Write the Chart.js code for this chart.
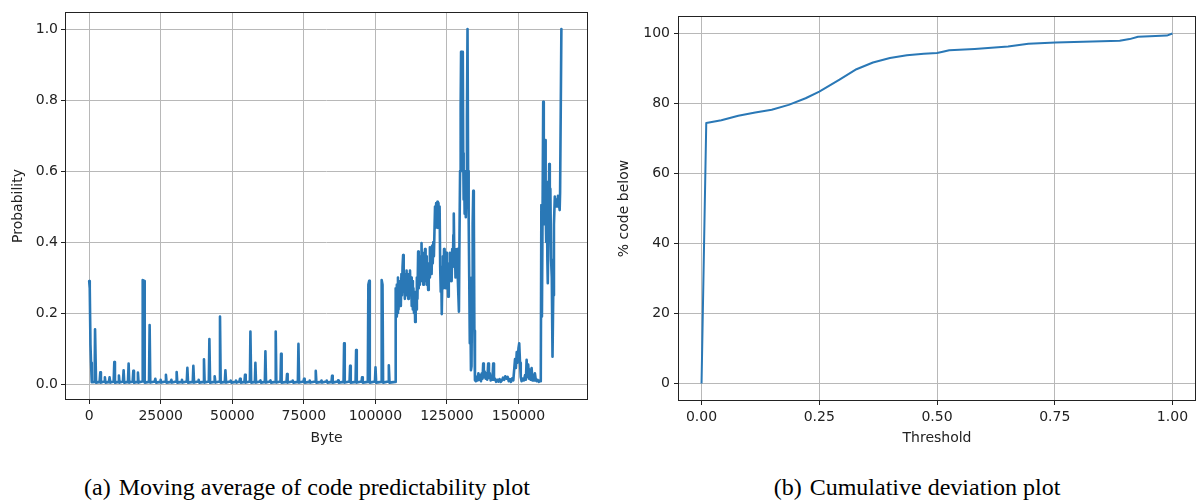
<!DOCTYPE html>
<html>
<head>
<meta charset="utf-8">
<script src="https://cdn.jsdelivr.net/npm/chart.js@4.4.1/dist/chart.umd.min.js"></script>
<style>
  html, body { margin: 0; padding: 0; background: #fff; }
  #wrap { position: relative; width: 1198px; height: 500px; overflow: hidden; }
  canvas { position: absolute; top: 0; }
  .cap { position: absolute; top: 473px; font-family: "Liberation Serif", "Times New Roman", serif;
         font-size: 24px; line-height: 28px; color: #000; white-space: nowrap; transform: translateX(-50%); }
  .cap span { margin-left: 8px; }
</style>
</head>
<body>
<div id="wrap">
  <canvas id="left" width="595" height="460" style="left:0px"></canvas>
  <canvas id="right" width="598" height="460" style="left:600px"></canvas>
  <div class="cap" style="left:307px">(a)<span>Moving average of code predictability plot</span></div>
  <div class="cap" style="left:917px">(b)<span>Cumulative deviation plot</span></div>
</div>
<script>
// tick values
var byteTicks = [0, 25000, 50000, 75000, 100000, 125000, 150000];
var probTicks = [0, 0.2, 0.4, 0.6, 0.8, 1.0];
var thresholdTicks = [0, 0.25, 0.5, 0.75, 1.0];
var pctTicks = [0, 20, 40, 60, 80, 100];

// (a) moving average, [byte, probability]
var movingAvg = [
  [0,0.29],[200,0.27],[450,0.11],[650,0.06],[900,0.005],
  [1900,0.006],[2050,0.154],[2250,0.154],[2400,0.004],
  [3650,0.006],[3880,0.033],[4100,0.004],
  [5250,0.007],[5490,0.019],[5700,0.004],
  [6900,0.006],[7130,0.019],[7350,0.004],
  [8550,0.007],[8780,0.062],[9000,0.004],
  [10150,0.006],[10390,0.024],[10600,0.004],
  [11800,0.007],[12030,0.039],[12250,0.004],
  [13550,0.006],[13780,0.058],[14000,0.004],
  [15200,0.007],[15420,0.037],[15650,0.004],
  [16800,0.006],[17030,0.032],[17250,0.004],
  [18500,0.007],[18700,0.293],[19200,0.29],[19400,0.004],
  [20900,0.006],[21120,0.166],[21350,0.004],
  [22900,0.007],[23110,0.015],[23350,0.004],
  [24750,0.006],[24970,0.012],[25200,0.004],
  [26600,0.007],[26820,0.026],[27050,0.004],
  [28500,0.006],[28710,0.012],[28950,0.004],
  [30350,0.007],[30560,0.034],[30800,0.004],
  [32200,0.006],[32420,0.012],[32650,0.004],
  [34100,0.007],[34310,0.046],[34550,0.004],
  [36200,0.006],[36400,0.051],[36650,0.004],
  [38050,0.007],[38260,0.012],[38500,0.004],
  [39900,0.006],[40110,0.07],[40350,0.004],
  [41800,0.007],[42000,0.127],[42250,0.004],
  [43650,0.006],[43850,0.022],[44100,0.004],
  [45500,0.007],[45710,0.19],[45950,0.004],
  [47400,0.006],[47600,0.039],[47850,0.004],
  [49250,0.007],[49450,0.01],[49700,0.004],
  [51100,0.006],[51300,0.01],[51550,0.004],
  [52500,0.007],[52700,0.015],[52950,0.004],
  [54250,0.006],[54450,0.026],[54700,0.004],
  [56150,0.007],[56340,0.148],[56600,0.004],
  [57900,0.006],[58080,0.06],[58300,0.004],
  [59650,0.007],[59830,0.01],[60050,0.004],
  [61380,0.006],[61580,0.092],[61800,0.004],
  [63150,0.007],[63330,0.01],[63550,0.004],
  [65000,0.006],[65180,0.148],[65400,0.004],
  [66850,0.007],[67040,0.085],[67250,0.004],
  [68950,0.006],[69140,0.028],[69350,0.004],
  [70950,0.007],[71130,0.01],[71350,0.004],
  [72920,0.006],[73120,0.113],[73350,0.004],
  [74900,0.007],[75080,0.015],[75300,0.004],
  [76900,0.006],[77070,0.01],[77300,0.004],
  [78980,0.007],[79170,0.037],[79400,0.004],
  [81000,0.006],[81170,0.01],[81400,0.004],
  [82850,0.007],[83020,0.01],[83250,0.004],
  [84680,0.006],[84870,0.023],[85100,0.004],
  [86800,0.007],[86970,0.01],[87200,0.004],
  [88880,0.006],[89070,0.115],[89300,0.004],
  [90980,0.007],[91170,0.051],[91400,0.004],
  [93080,0.006],[93270,0.096],[93500,0.004],
  [95180,0.007],[95360,0.019],[95600,0.004],
  [97350,0.006],[97550,0.28],[97850,0.291],[98050,0.004],
  [99850,0.007],[100050,0.047],[100280,0.004],
  [102000,0.006],[102200,0.293],[102500,0.28],[102700,0.004],
  [104500,0.007],[104700,0.053],[104950,0.004],
  [106900,0.006],[107100,0.27],[107300,0.19],[107500,0.28],[107700,0.2],[107900,0.3],
  [108100,0.21],[108300,0.27],[108500,0.23],[108700,0.29],[108900,0.22],[109100,0.31],
  [109300,0.25],[109500,0.33],[109700,0.363],[109900,0.26],[110100,0.31],[110300,0.24],
  [110500,0.3],[110700,0.25],[110900,0.32],[111100,0.26],[111300,0.31],[111500,0.24],
  [111700,0.3],[111900,0.25],[112100,0.32],[112300,0.26],[112500,0.3],[112700,0.22],
  [112900,0.29],[113100,0.21],[113300,0.27],[113500,0.2],[113700,0.26],[113900,0.175],
  [114100,0.25],[114300,0.21],[114500,0.3],[114700,0.24],[114950,0.373],[115150,0.27],
  [115350,0.35],[115550,0.28],[115750,0.36],[115950,0.3],[116130,0.397],[116350,0.29],
  [116550,0.37],[116750,0.28],[116950,0.35],[117150,0.29],[117350,0.38],[117550,0.3],
  [117750,0.36],[117950,0.28],[118150,0.33],[118450,0.265],[118650,0.34],[118850,0.3],
  [119050,0.385],[119250,0.32],[119450,0.38],[119650,0.31],[119850,0.39],[120050,0.34],
  [120250,0.4],[120450,0.36],[120650,0.43],[120850,0.5],[121050,0.44],[121250,0.51],
  [121450,0.45],[121650,0.513],[121850,0.44],[122050,0.51],[122250,0.45],[122450,0.5],
  [122650,0.33],[122850,0.26],[123050,0.3],[123200,0.197],[123400,0.3],[123600,0.36],
  [123800,0.27],[124000,0.38],[124200,0.29],[124400,0.35],[124600,0.27],[124800,0.37],
  [125000,0.3],[125200,0.34],[125440,0.246],[125650,0.33],[125850,0.29],[126050,0.37],
  [126250,0.3],[126450,0.36],[126650,0.29],[126850,0.38],[127050,0.33],[127250,0.42],
  [127400,0.48],[127600,0.35],[127800,0.38],[128000,0.3],[128200,0.36],[128400,0.31],
  [128600,0.38],[128800,0.3],[129000,0.25],[129200,0.204],[129400,0.42],[129600,0.6],
  [129800,0.78],[129950,0.936],[130100,0.7],[130250,0.93],[130400,0.6],[130550,0.936],
  [130700,0.65],[130850,0.52],[131000,0.6],[131200,0.48],[131400,0.56],[131600,0.47],
  [131800,0.58],[132000,0.75],[132200,1.0],[132400,0.6],[132600,0.47],[132800,0.3],
  [133000,0.115],[133200,0.2],[133400,0.039],[133600,0.05],[133800,0.3],[134000,0.45],
  [134200,0.544],[134400,0.5],[134600,0.15],[134800,0.011],
  [135100,0.008],[135400,0.02],[135700,0.01],[136000,0.03],[136300,0.012],[136600,0.025],
  [136900,0.008],[137200,0.03],[137450,0.015],[137680,0.058],[137900,0.02],[138200,0.035],
  [138500,0.015],[138800,0.03],[139100,0.012],[139430,0.058],[139700,0.018],[140000,0.03],
  [140300,0.01],[140600,0.02],[140900,0.012],[141180,0.058],[141450,0.012],[141800,0.015],
  [142200,0.006],[142600,0.012],[143000,0.007],[143400,0.014],[143800,0.006],[144200,0.01],
  [144600,0.018],[145000,0.012],[145400,0.022],[145800,0.015],[146200,0.02],[146600,0.008],
  [147000,0.014],[147400,0.006],[147800,0.016],[148200,0.01],[148500,0.04],[148800,0.07],
  [149100,0.045],[149400,0.09],[149700,0.06],[150000,0.1],[150270,0.115],[150550,0.06],
  [150800,0.02],[151100,0.008],[151500,0.015],[151900,0.01],[152300,0.025],[152600,0.012],
  [152850,0.068],[153100,0.02],[153400,0.055],[153700,0.015],[154000,0.04],[154300,0.012],
  [154600,0.045],[154900,0.01],[155200,0.025],[155500,0.01],[155750,0.03],[156050,0.012],
  [156350,0.008],[156700,0.012],[157100,0.006],[157500,0.01],[157800,0.008],
  [158000,0.504],[158200,0.19],[158400,0.45],[158650,0.795],[158850,0.55],[159050,0.45],
  [159300,0.687],[159500,0.5],[159700,0.4],[159900,0.57],[160100,0.35],[160250,0.284],
  [160500,0.45],[160750,0.62],[160950,0.42],[161150,0.55],[161400,0.35],[161650,0.3],
  [161900,0.077],[162150,0.25],[162400,0.45],[162700,0.528],[162950,0.5],[163200,0.52],
  [163500,0.5],[163800,0.53],[164100,0.51],[164400,0.49],[164550,0.54],[165000,1.0]
];

// (b) cumulative deviation
var thresholds = [0, 0.01, 0.042, 0.078, 0.114, 0.149, 0.185, 0.221, 0.25, 0.293, 0.329, 0.364, 0.4, 0.436,
  0.472, 0.5, 0.51, 0.526, 0.58, 0.651, 0.694, 0.752, 0.83, 0.888, 0.909, 0.927, 0.952, 0.988, 1.0];
var pctBelow = [0, 74.4, 75.2, 76.5, 77.4, 78.2, 79.6, 81.5, 83.4, 86.8, 89.8, 91.7, 93.0, 93.8,
  94.2, 94.4, 94.7, 95.2, 95.6, 96.3, 97.05, 97.4, 97.7, 97.9, 98.4, 99.05, 99.2, 99.4, 100];

Chart.defaults.font.family = "'DejaVu Sans', sans-serif";
Chart.defaults.font.size = 14;
Chart.defaults.color = '#222';

var boxPlugin = {
  id: 'box',
  afterDraw: function(c) {
    var a = c.chartArea, ctx = c.ctx;
    ctx.save();
    ctx.strokeStyle = '#222';
    ctx.lineWidth = 1;
    ctx.strokeRect(a.left + 0.5, a.top + 0.5, a.right - a.left - 1, a.bottom - a.top - 1);
    ctx.restore();
  }
};

function makeAxis(ticks, min, max, fmt, title, size, isY, tickPad, titlePad) {
  return {
    type: 'linear',
    min: min,
    max: max,
    afterBuildTicks: function(s) { s.ticks = ticks.map(function(v) { return {value: v}; }); },
    afterFit: function(s) { if (isY) s.width = size; else s.height = size; },
    grid: { color: '#b8b8b8', lineWidth: 1, tickColor: '#222', tickLength: 4 },
    border: { display: false },
    ticks: { autoSkip: false, maxRotation: 0, padding: tickPad, callback: fmt },
    title: { display: true, text: title, padding: isY ? {top: titlePad, bottom: 0} : {top: 0, bottom: titlePad} }
  };
}

new Chart(document.getElementById('left'), {
  type: 'line',
  data: {
    datasets: [{
      data: movingAvg.map(function(p) { return {x: p[0], y: p[1]}; }),
      borderColor: '#2a78b6',
      borderWidth: 2.6,
      borderJoinStyle: 'round',
      borderCapStyle: 'round',
      pointRadius: 0,
      tension: 0,
      fill: false
    }]
  },
  options: {
    responsive: false,
    animation: false,
    layout: { padding: { left: 0, top: 12, right: 7, bottom: 0 } },
    plugins: { legend: { display: false }, tooltip: { enabled: false } },
    scales: {
      x: makeAxis(byteTicks, -8450, 174300, function(v) { return String(v); }, 'Byte', 60, false, 4, 13),
      y: makeAxis(probTicks, -0.045, 1.048, function(v) { return v.toFixed(1); }, 'Probability', 65, true, 3, 10)
    }
  },
  plugins: [boxPlugin]
});

new Chart(document.getElementById('right'), {
  type: 'line',
  data: {
    datasets: [{
      data: thresholds.map(function(t, i) { return {x: t, y: pctBelow[i]}; }),
      borderColor: '#2a78b6',
      borderWidth: 2,
      borderJoinStyle: 'round',
      pointRadius: 0,
      tension: 0,
      fill: false
    }]
  },
  options: {
    responsive: false,
    animation: false,
    layout: { padding: { left: 0, top: 16, right: 2, bottom: 0 } },
    plugins: { legend: { display: false }, tooltip: { enabled: false } },
    scales: {
      x: makeAxis(thresholdTicks, -0.05, 1.05, function(v) { return v.toFixed(2); }, 'Threshold', 59, false, 4, 13),
      y: makeAxis(pctTicks, -5, 105, function(v) { return String(v); }, '% code below', 78, true, 4, 16)
    }
  },
  plugins: [boxPlugin]
});
</script>
</body>
</html>
